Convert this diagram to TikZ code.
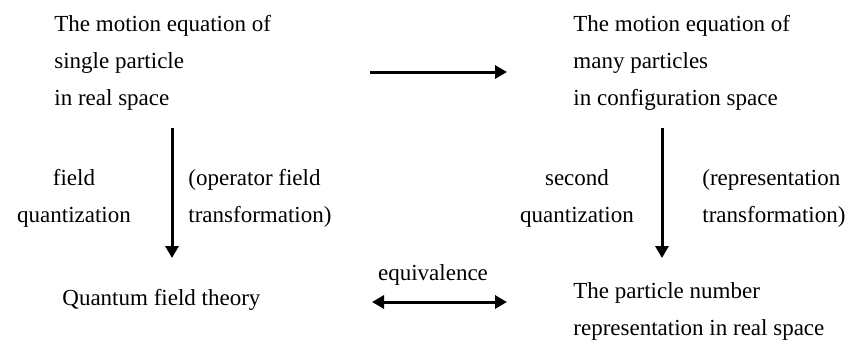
\documentclass[tikz,border=0pt]{standalone}
\usepackage{fontspec}
\setmainfont{Liberation Serif}
\usetikzlibrary{arrows.meta}
\begin{document}
\begin{tikzpicture}[x=0.5pt,y=-0.5pt,>={Triangle[length=6pt,width=6.5pt]},
  every node/.style={font=\fontsize{11.5}{18.5}\selectfont,inner sep=0pt},
  flow/.style={line width=1.5pt}]
  \useasboundingbox (0,0) rectangle (863,345);

  % the four corners (base = last line)
  \node[anchor=base west,align=left] (single) at (54,105)
    {The motion equation of\\single particle\\in real space};
  \node[anchor=base west,align=left] (many) at (573,105)
    {The motion equation of\\many particles\\in configuration space};
  \node[anchor=base west,align=left] (qft) at (62,305) {Quantum field theory};
  \node[anchor=base west,align=left] (number) at (573,335)
    {The particle number\\representation in real space};

  % labels of the arrows
  \node[anchor=base,align=center] (fieldq) at (74,222) {field\\quantization};
  \node[anchor=base west,align=left] (opfield) at (188,222)
    {(operator field\\transformation)};
  \node[anchor=base,align=center] (secondq) at (577,222) {second\\quantization};
  \node[anchor=base west,align=left] (reptrans) at (702,222)
    {(representation\\transformation)};
  \node[anchor=base] (equiv) at (433,280) {equivalence};

  % arrows
  \coordinate (topS) at (370,72);
  \coordinate (topE) at (507,72);
  \coordinate (leftS) at (172,128);
  \coordinate (leftE) at (172,258);
  \coordinate (rightS) at (662,128);
  \coordinate (rightE) at (662,258);
  \coordinate (eqS) at (372,302);
  \coordinate (eqE) at (507,302);
  \draw[flow,->] (topS) -- (topE);
  \draw[flow,->] (leftS) -- (leftE);
  \draw[flow,->] (rightS) -- (rightE);
  \draw[flow,<->] (eqS) -- (eqE);
\end{tikzpicture}
\end{document}
